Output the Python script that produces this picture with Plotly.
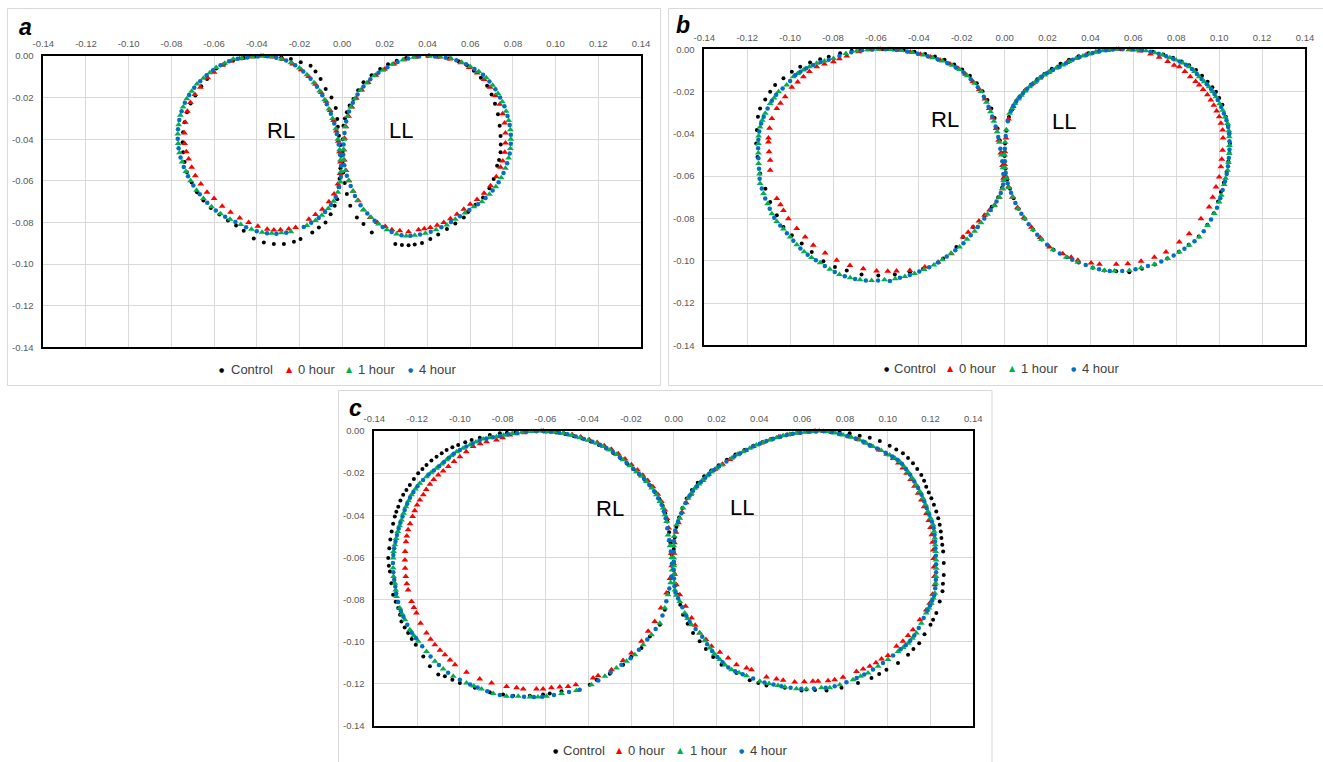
import plotly.graph_objects as go

# ---------------- data ----------------
SERIES_NAMES = ["Control", "0 hour", "1 hour", "4 hour"]
X_TICKS = [-0.14, -0.12, -0.10, -0.08, -0.06, -0.04, -0.02, 0.00, 0.02, 0.04, 0.06, 0.08, 0.10, 0.12, 0.14]
X_TICK_TEXT = ["-0.14", "-0.12", "-0.10", "-0.08", "-0.06", "-0.04", "-0.02", "0.00",
               "0.02", "0.04", "0.06", "0.08", "0.10", "0.12", "0.14"]
Y_TICKS = [0.00, -0.02, -0.04, -0.06, -0.08, -0.10, -0.12, -0.14]
Y_TICK_TEXT = ["0.00", "-0.02", "-0.04", "-0.06", "-0.08", "-0.10", "-0.12", "-0.14"]
PANEL_LABELS = ["a", "b", "c"]
LOOP_LABELS = ["RL", "LL"]
LOOP_LABEL_POS = [[(-0.0286, -0.036), (0.0276, -0.036)],
                  [(-0.028, -0.033), (0.0275, -0.034)],
                  [(-0.0299, -0.037), (0.0318, -0.0365)]]

# ---- panel a ----
A_CONTROL_RL = [(-0.036,0.000),(-0.041,-0.0003),(-0.046,-0.0010),(-0.051,-0.0020),(-0.055,-0.0037),(-0.0590,-0.0060),(-0.0633,-0.0111),(-0.066,-0.0145),(-0.0688,-0.0190),(-0.0710,-0.0228),(-0.0727,-0.0270),(-0.0738,-0.0318),(-0.0745,-0.0367),(-0.0747,-0.0415),(-0.0745,-0.0463),(-0.0738,-0.0510),(-0.0727,-0.0559),(-0.0705,-0.0608),(-0.0680,-0.0655),(-0.0650,-0.0695),(-0.0615,-0.0730),(-0.0575,-0.0762),(-0.0535,-0.0790),(-0.0497,-0.0815),(-0.0461,-0.0840),(-0.0414,-0.0877),(-0.0367,-0.0896),(-0.0320,-0.0904),(-0.0273,-0.0904),(-0.0226,-0.0893),(-0.0195,-0.0880),(-0.0140,-0.0848),(-0.0109,-0.0824),(-0.0078,-0.0800),(-0.0054,-0.0760),(-0.0035,-0.0720),(-0.0023,-0.0688),(-0.0017,-0.0630),(-0.0012,-0.0590),(-0.0008,-0.0540),(-0.0005,-0.0480),(-0.0008,-0.0428),(-0.0015,-0.0383),(-0.0020,-0.0340),(-0.0023,-0.0303),(-0.0030,-0.0250),(-0.0050,-0.0200),(-0.0077,-0.0159),(-0.0101,-0.0111),(-0.0125,-0.0075),(-0.0148,-0.0047),(-0.0194,-0.0030),(-0.0240,-0.0015),(-0.0285,-0.0006),(-0.0325,-0.0001)]
A_CONTROL_LL = [(0.0400,0.000),(0.0450,-0.0004),(0.0500,-0.0012),(0.0545,-0.0025),(0.0585,-0.0045),(0.0617,-0.0071),(0.0650,-0.0105),(0.0679,-0.0143),(0.0700,-0.0185),(0.0716,-0.0230),(0.0730,-0.0280),(0.0738,-0.0335),(0.0742,-0.0385),(0.0743,-0.0425),(0.0742,-0.0463),(0.0735,-0.0500),(0.0726,-0.0527),(0.0710,-0.0591),(0.0690,-0.0635),(0.0660,-0.0680),(0.0625,-0.0715),(0.0590,-0.0750),(0.0570,-0.0776),(0.0530,-0.0805),(0.0491,-0.0832),(0.0450,-0.0858),(0.0413,-0.0880),(0.0374,-0.0899),(0.0340,-0.0906),(0.0311,-0.0909),(0.0280,-0.0908),(0.0249,-0.0904),(0.0139,-0.0848),(0.0100,-0.0808),(0.0069,-0.0776),(0.0038,-0.0720),(0.0022,-0.0663),(0.0012,-0.0610),(0.0005,-0.0560),(0.0002,-0.0510),(0.0002,-0.0460),(0.0003,-0.0400),(0.0006,-0.0335),(0.0013,-0.0300),(0.0022,-0.0270),(0.0035,-0.0238),(0.0053,-0.0207),(0.0075,-0.0165),(0.0100,-0.0126),(0.0138,-0.0092),(0.0178,-0.0063),(0.0215,-0.0040),(0.0256,-0.0023),(0.0300,-0.0010),(0.0350,-0.0002)]
A_H0_RL = [(-0.038,0.000),(-0.043,-0.0005),(-0.048,-0.0013),(-0.052,-0.0025),(-0.056,-0.0045),(-0.060,-0.0078),(-0.063,-0.0105),(-0.0664,-0.0150),(-0.069,-0.0185),(-0.0711,-0.0223),(-0.0725,-0.0265),(-0.0735,-0.0319),(-0.0739,-0.0370),(-0.0738,-0.0420),(-0.0730,-0.0460),(-0.0719,-0.0495),(-0.0705,-0.0535),(-0.0688,-0.0575),(-0.0662,-0.0615),(-0.0633,-0.0655),(-0.0600,-0.0685),(-0.0562,-0.0722),(-0.0523,-0.0751),(-0.0480,-0.0778),(-0.0438,-0.0800),(-0.0395,-0.0818),(-0.0351,-0.0833),(-0.0320,-0.0836),(-0.0289,-0.0835),(-0.0250,-0.0832),(-0.0218,-0.0824),(-0.0156,-0.0784),(-0.0125,-0.0762),(-0.0093,-0.0736),(-0.0062,-0.0700),(-0.0038,-0.0663),(-0.0020,-0.0615),(-0.0010,-0.0565),(-0.0008,-0.0510),(-0.0012,-0.0460),(-0.0018,-0.0410),(-0.0027,-0.0360),(-0.0040,-0.0310),(-0.0056,-0.0262),(-0.0075,-0.0218),(-0.0098,-0.0176),(-0.0125,-0.0136),(-0.0157,-0.0098),(-0.0192,-0.0066),(-0.0232,-0.0038),(-0.0277,-0.0017),(-0.0325,-0.0005)]
A_H0_LL = [(0.0405,0.000),(0.0455,-0.0005),(0.0505,-0.0015),(0.0555,-0.0032),(0.0595,-0.0055),(0.0632,-0.0082),(0.0665,-0.0113),(0.0693,-0.0150),(0.0718,-0.0190),(0.0738,-0.0232),(0.0752,-0.0277),(0.0761,-0.0322),(0.0765,-0.0370),(0.0765,-0.0418),(0.0762,-0.0463),(0.0752,-0.0505),(0.0742,-0.0535),(0.0722,-0.0580),(0.0695,-0.0623),(0.0665,-0.0660),(0.0632,-0.0690),(0.0600,-0.0712),(0.0570,-0.0737),(0.0538,-0.0760),(0.0507,-0.0782),(0.0476,-0.0800),(0.0445,-0.0813),(0.0413,-0.0824),(0.0385,-0.0830),(0.0358,-0.0835),(0.0311,-0.0845),(0.0270,-0.0840),(0.0233,-0.0835),(0.0202,-0.0819),(0.0165,-0.0800),(0.0131,-0.0776),(0.0100,-0.0740),(0.0076,-0.0696),(0.0052,-0.0650),(0.0032,-0.0600),(0.0018,-0.0550),(0.0010,-0.0500),(0.0008,-0.0450),(0.0011,-0.0395),(0.0018,-0.0340),(0.0030,-0.0290),(0.0046,-0.0245),(0.0066,-0.0203),(0.0092,-0.0163),(0.0122,-0.0127),(0.0158,-0.0093),(0.0198,-0.0064),(0.0243,-0.0038),(0.0290,-0.0018),(0.0345,-0.0005)]
A_H1_RL = [(-0.037,0.000),(-0.042,-0.0004),(-0.047,-0.0010),(-0.051,-0.0015),(-0.055,-0.0035),(-0.059,-0.0055),(-0.062,-0.0080),(-0.065,-0.0107),(-0.068,-0.0135),(-0.0705,-0.0170),(-0.0728,-0.0205),(-0.0745,-0.0245),(-0.0758,-0.0285),(-0.0766,-0.0330),(-0.0770,-0.0375),(-0.0768,-0.0420),(-0.0762,-0.0465),(-0.0750,-0.0510),(-0.0732,-0.0555),(-0.0710,-0.0600),(-0.0682,-0.0645),(-0.0650,-0.0685),(-0.0612,-0.0725),(-0.0570,-0.0758),(-0.0525,-0.0785),(-0.0475,-0.0810),(-0.0425,-0.0833),(-0.0375,-0.0847),(-0.0330,-0.0852),(-0.0285,-0.0850),(-0.0240,-0.0845),(-0.0165,-0.0815),(-0.0125,-0.0790),(-0.0095,-0.0765),(-0.0065,-0.0733),(-0.0040,-0.0698),(-0.0020,-0.0655),(-0.0008,-0.0605),(-0.0005,-0.0555),(-0.0008,-0.0500),(-0.0012,-0.0450),(-0.0020,-0.0400),(-0.0030,-0.0350),(-0.0045,-0.0300),(-0.0062,-0.0255),(-0.0082,-0.0210),(-0.0105,-0.0168),(-0.0132,-0.0128),(-0.0165,-0.0090),(-0.0200,-0.0058),(-0.0240,-0.0032),(-0.0285,-0.0014),(-0.0330,-0.0004)]
A_H1_LL = [(0.041,0.000),(0.046,-0.0004),(0.051,-0.0012),(0.056,-0.0030),(0.060,-0.0050),(0.064,-0.0075),(0.0675,-0.0105),(0.0705,-0.0140),(0.073,-0.0180),(0.075,-0.0220),(0.0768,-0.0265),(0.0780,-0.0310),(0.0788,-0.0355),(0.0790,-0.0400),(0.0788,-0.0445),(0.0780,-0.0490),(0.0765,-0.0540),(0.0745,-0.0585),(0.0720,-0.0628),(0.0690,-0.0665),(0.0655,-0.0700),(0.0617,-0.0725),(0.0575,-0.0755),(0.0530,-0.0785),(0.0490,-0.0812),(0.0440,-0.0835),(0.0390,-0.0852),(0.0340,-0.0862),(0.0300,-0.0865),(0.0255,-0.0855),(0.0210,-0.0835),(0.0170,-0.0808),(0.0135,-0.0775),(0.0100,-0.0738),(0.0072,-0.0695),(0.0050,-0.0650),(0.0030,-0.0600),(0.0015,-0.0550),(0.0006,-0.0500),(0.0006,-0.0450),(0.0008,-0.0400),(0.0014,-0.0340),(0.0025,-0.0290),(0.0040,-0.0245),(0.0060,-0.0205),(0.0085,-0.0165),(0.0115,-0.0130),(0.0150,-0.0095),(0.0190,-0.0068),(0.0235,-0.0040),(0.0285,-0.0018),(0.0335,-0.0006)]
A_H4_RL = [(-0.0395,-0.0002),(-0.0445,-0.0007),(-0.049,-0.0013),(-0.053,-0.0025),(-0.057,-0.0045),(-0.0605,-0.0068),(-0.0635,-0.0093),(-0.0665,-0.0121),(-0.0693,-0.0153),(-0.0717,-0.0188),(-0.0737,-0.0225),(-0.0752,-0.0265),(-0.0763,-0.0308),(-0.0769,-0.0352),(-0.0770,-0.0398),(-0.0766,-0.0443),(-0.0757,-0.0488),(-0.0742,-0.0533),(-0.0722,-0.0578),(-0.0697,-0.0622),(-0.0667,-0.0665),(-0.0632,-0.0705),(-0.0592,-0.0742),(-0.0548,-0.0772),(-0.0500,-0.0798),(-0.0450,-0.0823),(-0.0400,-0.0842),(-0.0352,-0.0852),(-0.0308,-0.0854),(-0.0262,-0.0850),(-0.0180,-0.0822),(-0.0145,-0.0802),(-0.0110,-0.0778),(-0.0080,-0.0750),(-0.0052,-0.0716),(-0.0030,-0.0678),(-0.0014,-0.0630),(-0.0006,-0.0580),(-0.0005,-0.0528),(-0.0010,-0.0475),(-0.0016,-0.0425),(-0.0025,-0.0375),(-0.0037,-0.0325),(-0.0053,-0.0278),(-0.0072,-0.0232),(-0.0093,-0.0189),(-0.0118,-0.0148),(-0.0148,-0.0109),(-0.0182,-0.0074),(-0.0220,-0.0045),(-0.0262,-0.0022),(-0.0308,-0.0008),(-0.0350,-0.0001)]
A_H4_LL = [(0.0435,-0.0002),(0.0485,-0.0008),(0.0535,-0.0020),(0.058,-0.0040),(0.062,-0.0062),(0.066,-0.0090),(0.069,-0.0122),(0.0718,-0.0160),(0.074,-0.0200),(0.0760,-0.0242),(0.0775,-0.0288),(0.0785,-0.0332),(0.0790,-0.0378),(0.0790,-0.0422),(0.0785,-0.0468),(0.0773,-0.0515),(0.0756,-0.0562),(0.0733,-0.0607),(0.0705,-0.0647),(0.0672,-0.0683),(0.0636,-0.0713),(0.0596,-0.0740),(0.0552,-0.0770),(0.0510,-0.0798),(0.0465,-0.0823),(0.0415,-0.0845),(0.0365,-0.0858),(0.0320,-0.0864),(0.0278,-0.0862),(0.0232,-0.0846),(0.0190,-0.0822),(0.0152,-0.0792),(0.0118,-0.0757),(0.0086,-0.0717),(0.0060,-0.0673),(0.0040,-0.0625),(0.0022,-0.0575),(0.0010,-0.0525),(0.0005,-0.0475),(0.0007,-0.0425),(0.0011,-0.0370),(0.0019,-0.0315),(0.0032,-0.0267),(0.0050,-0.0225),(0.0072,-0.0185),(0.0100,-0.0147),(0.0132,-0.0112),(0.0170,-0.0081),(0.0212,-0.0054),(0.0260,-0.0029),(0.0310,-0.0012),(0.0360,-0.0003)]

# ---- panel b ----
B_CONTROL_RL = [(-0.062,0.000),(-0.067,-0.0003),(-0.0713,-0.0007),(-0.0767,-0.0019),(-0.0820,-0.0035),(-0.0860,-0.0047),(-0.0907,-0.0063),(-0.0953,-0.0082),(-0.0992,-0.0106),(-0.1031,-0.0137),(-0.1070,-0.0169),(-0.1093,-0.0201),(-0.1116,-0.0237),(-0.1140,-0.0280),(-0.1150,-0.0319),(-0.1155,-0.0382),(-0.1158,-0.0446),(-0.1152,-0.0509),(-0.1140,-0.0588),(-0.1115,-0.0660),(-0.1093,-0.0722),(-0.1062,-0.0785),(-0.1031,-0.0841),(-0.0992,-0.0880),(-0.0946,-0.0919),(-0.0899,-0.0959),(-0.0845,-0.1002),(-0.0791,-0.1030),(-0.0736,-0.1046),(-0.0667,-0.1065),(-0.0589,-0.1070),(-0.0512,-0.1065),(-0.0442,-0.1054),(-0.0380,-0.1038),(-0.0287,-0.0990),(-0.0225,-0.0935),(-0.0194,-0.0888),(-0.0147,-0.0841),(-0.0093,-0.0785),(-0.0060,-0.0745),(-0.0030,-0.0700),(-0.0012,-0.0655),(-0.0005,-0.0610),(-0.0008,-0.0550),(-0.0015,-0.0490),(-0.0023,-0.0430),(-0.0033,-0.0375),(-0.0047,-0.0325),(-0.0062,-0.0280),(-0.0080,-0.0240),(-0.0103,-0.0198),(-0.0130,-0.0160),(-0.0162,-0.0125),(-0.0198,-0.0096),(-0.0235,-0.0072),(-0.0280,-0.0050),(-0.0325,-0.0034),(-0.0370,-0.0022),(-0.0420,-0.0012),(-0.0470,-0.0005),(-0.0520,-0.0001),(-0.0570,0.0000)]
B_CONTROL_LL = [(0.0540,0.000),(0.0590,-0.0001),(0.0640,-0.0004),(0.0690,-0.0012),(0.0740,-0.0025),(0.0785,-0.0040),(0.0825,-0.0058),(0.0860,-0.0075),(0.0892,-0.0098),(0.0920,-0.0125),(0.0946,-0.0154),(0.0968,-0.0180),(0.0985,-0.0201),(0.1000,-0.0230),(0.1015,-0.0262),(0.1031,-0.0319),(0.1042,-0.0360),(0.1048,-0.0400),(0.1050,-0.0445),(0.1048,-0.0490),(0.1043,-0.0530),(0.1035,-0.0580),(0.1022,-0.0630),(0.1008,-0.0675),(0.0995,-0.0720),(0.0975,-0.0775),(0.0945,-0.0830),(0.0905,-0.0885),(0.0858,-0.0925),(0.0812,-0.0958),(0.0758,-0.0990),(0.0700,-0.1018),(0.0640,-0.1038),(0.0581,-0.1054),(0.0520,-0.1050),(0.0465,-0.1046),(0.0411,-0.1033),(0.0345,-0.1008),(0.0290,-0.0983),(0.0228,-0.0948),(0.0173,-0.0900),(0.0133,-0.0853),(0.0095,-0.0801),(0.0065,-0.0754),(0.0042,-0.0705),(0.0025,-0.0660),(0.0012,-0.0615),(0.0004,-0.0565),(0.0000,-0.0505),(0.0002,-0.0445),(0.0008,-0.0385),(0.0020,-0.0320),(0.0035,-0.0285),(0.0052,-0.0250),(0.0072,-0.0222),(0.0095,-0.0195),(0.0122,-0.0168),(0.0152,-0.0142),(0.0185,-0.0117),(0.0220,-0.0092),(0.0260,-0.0068),(0.0300,-0.0050),(0.0345,-0.0033),(0.0390,-0.0019),(0.0440,-0.0008),(0.0490,-0.0002)]
B_H0_RL = [(-0.058,0.000),(-0.063,-0.0002),(-0.068,-0.0012),(-0.0736,-0.0032),(-0.0770,-0.0045),(-0.0798,-0.0059),(-0.0840,-0.0070),(-0.0876,-0.0082),(-0.0910,-0.0105),(-0.0938,-0.0130),(-0.0965,-0.0155),(-0.0992,-0.0180),(-0.1023,-0.0225),(-0.1045,-0.0255),(-0.1062,-0.0280),(-0.1085,-0.0327),(-0.1096,-0.0374),(-0.1101,-0.0420),(-0.1101,-0.0438),(-0.1098,-0.0485),(-0.1093,-0.0525),(-0.1093,-0.0572),(-0.1062,-0.0706),(-0.1045,-0.0735),(-0.1031,-0.0762),(-0.1008,-0.0801),(-0.0969,-0.0848),(-0.0930,-0.0888),(-0.0892,-0.0927),(-0.0837,-0.0964),(-0.0783,-0.0998),(-0.0721,-0.1022),(-0.0659,-0.1038),(-0.0597,-0.1049),(-0.0545,-0.1050),(-0.0504,-0.1049),(-0.0442,-0.1046),(-0.0372,-0.1030),(-0.0310,-0.1007),(-0.0248,-0.0967),(-0.0194,-0.0888),(-0.0170,-0.0865),(-0.0147,-0.0841),(-0.0120,-0.0812),(-0.0093,-0.0785),(-0.0070,-0.0760),(-0.0047,-0.0738),(-0.0025,-0.0700),(-0.0010,-0.0660),(-0.0005,-0.0610),(-0.0010,-0.0550),(-0.0018,-0.0490),(-0.0028,-0.0430),(-0.0040,-0.0375),(-0.0055,-0.0325),(-0.0072,-0.0280),(-0.0092,-0.0235),(-0.0118,-0.0190),(-0.0148,-0.0152),(-0.0182,-0.0118),(-0.0218,-0.0090),(-0.0255,-0.0070),(-0.0300,-0.0052),(-0.0345,-0.0037),(-0.0392,-0.0024),(-0.0440,-0.0013),(-0.0490,-0.0005),(-0.0540,-0.0001)]
B_H0_LL = [(0.0530,0.000),(0.0580,-0.0002),(0.0630,-0.0008),(0.0680,-0.0022),(0.0720,-0.0038),(0.0760,-0.0058),(0.0790,-0.0075),(0.0814,-0.0082),(0.0840,-0.0105),(0.0865,-0.0130),(0.0890,-0.0152),(0.0907,-0.0169),(0.0925,-0.0190),(0.0945,-0.0215),(0.0961,-0.0240),(0.0975,-0.0265),(0.0988,-0.0292),(0.1000,-0.0319),(0.1008,-0.0350),(0.1016,-0.0382),(0.1018,-0.0420),(0.1016,-0.0477),(0.1012,-0.0520),(0.1008,-0.0556),(0.1000,-0.0604),(0.0985,-0.0651),(0.0970,-0.0700),(0.0953,-0.0746),(0.0915,-0.0801),(0.0860,-0.0872),(0.0814,-0.0912),(0.0752,-0.0959),(0.0698,-0.0983),(0.0636,-0.1002),(0.0574,-0.1014),(0.0520,-0.1017),(0.0442,-0.1017),(0.0403,-0.1011),(0.0341,-0.0998),(0.0310,-0.0983),(0.0271,-0.0967),(0.0209,-0.0935),(0.0165,-0.0890),(0.0125,-0.0842),(0.0090,-0.0795),(0.0060,-0.0748),(0.0036,-0.0700),(0.0018,-0.0650),(0.0006,-0.0600),(0.0000,-0.0545),(0.0001,-0.0485),(0.0006,-0.0420),(0.0018,-0.0330),(0.0040,-0.0270),(0.0065,-0.0230),(0.0095,-0.0195),(0.0130,-0.0163),(0.0165,-0.0135),(0.0205,-0.0108),(0.0245,-0.0085),(0.0290,-0.0062),(0.0335,-0.0042),(0.0380,-0.0026),(0.0425,-0.0013),(0.0475,-0.0004)]
B_H1_RL = [(-0.059,0.000),(-0.064,-0.0002),(-0.069,-0.0008),(-0.074,-0.0020),(-0.0798,-0.0043),(-0.084,-0.0055),(-0.0876,-0.0066),(-0.091,-0.0082),(-0.0938,-0.0098),(-0.0965,-0.0115),(-0.0985,-0.0130),(-0.1016,-0.0169),(-0.1054,-0.0201),(-0.1075,-0.0230),(-0.1093,-0.0256),(-0.1116,-0.0303),(-0.1130,-0.0335),(-0.1140,-0.0367),(-0.1147,-0.0410),(-0.1148,-0.0446),(-0.1148,-0.0490),(-0.1147,-0.0540),(-0.1143,-0.0590),(-0.1140,-0.0635),(-0.1124,-0.0682),(-0.1105,-0.0730),(-0.1085,-0.0778),(-0.1062,-0.0815),(-0.1031,-0.0850),(-0.1000,-0.0888),(-0.0969,-0.0925),(-0.0935,-0.0958),(-0.0900,-0.0985),(-0.0860,-0.1010),(-0.0815,-0.1040),(-0.0770,-0.1065),(-0.0720,-0.1080),(-0.0674,-0.1090),(-0.0620,-0.1093),(-0.0560,-0.1090),(-0.0510,-0.1085),(-0.0465,-0.1075),(-0.0420,-0.1060),(-0.0375,-0.1042),(-0.0330,-0.1020),(-0.0290,-0.0995),(-0.0250,-0.0965),(-0.0210,-0.0935),(-0.0175,-0.0898),(-0.0140,-0.0860),(-0.0110,-0.0820),(-0.0080,-0.0780),(-0.0050,-0.0740),(-0.0025,-0.0700),(-0.0010,-0.0660),(-0.0005,-0.0620),(-0.0008,-0.0560),(-0.0015,-0.0500),(-0.0025,-0.0440),(-0.0035,-0.0390),(-0.0050,-0.0340),(-0.0066,-0.0295),(-0.0085,-0.0250),(-0.0110,-0.0200),(-0.0140,-0.0160),(-0.0175,-0.0125),(-0.0210,-0.0095),(-0.0245,-0.0075),(-0.0290,-0.0055),(-0.0335,-0.0040),(-0.0380,-0.0027),(-0.0430,-0.0015),(-0.0480,-0.0006),(-0.0530,-0.0001)]
B_H1_LL = [(0.052,0.000),(0.0581,0.000),(0.0620,-0.0003),(0.0659,-0.0007),(0.0700,-0.0016),(0.0736,-0.0027),(0.0770,-0.0040),(0.0799,-0.0051),(0.0830,-0.0065),(0.0860,-0.0082),(0.0885,-0.0105),(0.0907,-0.0130),(0.0930,-0.0153),(0.0953,-0.0177),(0.0970,-0.0200),(0.0985,-0.0225),(0.1002,-0.0258),(0.1016,-0.0288),(0.1028,-0.0320),(0.1039,-0.0351),(0.1045,-0.0385),(0.1047,-0.0414),(0.1048,-0.0455),(0.1047,-0.0493),(0.1043,-0.0535),(0.1039,-0.0572),(0.1030,-0.0610),(0.1023,-0.0640),(0.1010,-0.0690),(0.1000,-0.0722),(0.0977,-0.0777),(0.0946,-0.0833),(0.0907,-0.0888),(0.0860,-0.0927),(0.0814,-0.0959),(0.0760,-0.0990),(0.0698,-0.1017),(0.0636,-0.1033),(0.0581,-0.1046),(0.0512,-0.1049),(0.0465,-0.1046),(0.0411,-0.1033),(0.0341,-0.1007),(0.0287,-0.0983),(0.0225,-0.0948),(0.0171,-0.0900),(0.0132,-0.0853),(0.0093,-0.0801),(0.0062,-0.0754),(0.0039,-0.0699),(0.0020,-0.0655),(0.0008,-0.0610),(0.0002,-0.0560),(0.0000,-0.0500),(0.0002,-0.0440),(0.0008,-0.0380),(0.0023,-0.0303),(0.0035,-0.0280),(0.0047,-0.0256),(0.0062,-0.0235),(0.0078,-0.0217),(0.0095,-0.0197),(0.0116,-0.0177),(0.0140,-0.0157),(0.0163,-0.0137),(0.0185,-0.0121),(0.0209,-0.0106),(0.0240,-0.0090),(0.0271,-0.0074),(0.0300,-0.0058),(0.0333,-0.0043),(0.0365,-0.0032),(0.0395,-0.0022),(0.0425,-0.0013),(0.0457,-0.0007),(0.0490,-0.0002)]
B_H4_RL = [(-0.0615,-0.0001),(-0.0665,-0.0005),(-0.0715,-0.0014),(-0.0770,-0.0032),(-0.0820,-0.0050),(-0.0858,-0.0060),(-0.0893,-0.0074),(-0.0925,-0.0090),(-0.0952,-0.0106),(-0.0975,-0.0122),(-0.1000,-0.0150),(-0.1035,-0.0185),(-0.1065,-0.0215),(-0.1085,-0.0243),(-0.1105,-0.0280),(-0.1123,-0.0319),(-0.1135,-0.0351),(-0.1144,-0.0389),(-0.1148,-0.0428),(-0.1149,-0.0468),(-0.1148,-0.0515),(-0.1145,-0.0565),(-0.1142,-0.0612),(-0.1132,-0.0658),(-0.1116,-0.0706),(-0.1095,-0.0754),(-0.1074,-0.0797),(-0.1046,-0.0833),(-0.1015,-0.0870),(-0.0985,-0.0906),(-0.0952,-0.0942),(-0.0918,-0.0972),(-0.0880,-0.0998),(-0.0838,-0.1025),(-0.0792,-0.1053),(-0.0745,-0.1074),(-0.0697,-0.1086),(-0.0647,-0.1093),(-0.0590,-0.1093),(-0.0535,-0.1096),(-0.0488,-0.1080),(-0.0442,-0.1068),(-0.0398,-0.1051),(-0.0352,-0.1031),(-0.0310,-0.1008),(-0.0270,-0.0980),(-0.0230,-0.0950),(-0.0192,-0.0917),(-0.0158,-0.0880),(-0.0125,-0.0840),(-0.0095,-0.0800),(-0.0065,-0.0760),(-0.0038,-0.0720),(-0.0018,-0.0680),(-0.0007,-0.0640),(-0.0006,-0.0590),(-0.0011,-0.0530),(-0.0020,-0.0470),(-0.0030,-0.0415),(-0.0042,-0.0365),(-0.0058,-0.0318),(-0.0075,-0.0272),(-0.0097,-0.0225),(-0.0125,-0.0180),(-0.0158,-0.0142),(-0.0192,-0.0110),(-0.0228,-0.0085),(-0.0268,-0.0065),(-0.0312,-0.0047),(-0.0358,-0.0033),(-0.0405,-0.0021),(-0.0455,-0.0010),(-0.0505,-0.0003),(-0.0555,0.0000)]
B_H4_LL = [(0.0550,0.000),(0.0600,-0.0001),(0.0640,-0.0005),(0.0680,-0.0011),(0.0718,-0.0021),(0.0753,-0.0033),(0.0785,-0.0045),(0.0815,-0.0058),(0.0845,-0.0073),(0.0873,-0.0093),(0.0896,-0.0117),(0.0918,-0.0141),(0.0942,-0.0165),(0.0962,-0.0188),(0.0978,-0.0212),(0.0993,-0.0240),(0.1009,-0.0273),(0.1022,-0.0304),(0.1034,-0.0335),(0.1042,-0.0368),(0.1046,-0.0400),(0.1048,-0.0435),(0.1048,-0.0474),(0.1045,-0.0514),(0.1041,-0.0553),(0.1035,-0.0590),(0.1027,-0.0625),(0.1016,-0.0665),(0.1005,-0.0705),(0.0990,-0.0750),(0.0962,-0.0805),(0.0928,-0.0860),(0.0885,-0.0908),(0.0838,-0.0943),(0.0788,-0.0975),(0.0730,-0.1004),(0.0668,-0.1025),(0.0610,-0.1040),(0.0548,-0.1048),(0.0490,-0.1048),(0.0440,-0.1040),(0.0378,-0.1020),(0.0315,-0.0995),(0.0257,-0.0966),(0.0198,-0.0925),(0.0152,-0.0877),(0.0112,-0.0827),(0.0078,-0.0778),(0.0050,-0.0727),(0.0030,-0.0678),(0.0014,-0.0633),(0.0005,-0.0585),(0.0001,-0.0530),(0.0001,-0.0470),(0.0005,-0.0410),(0.0015,-0.0340),(0.0029,-0.0292),(0.0041,-0.0268),(0.0055,-0.0245),(0.0070,-0.0226),(0.0086,-0.0207),(0.0105,-0.0187),(0.0128,-0.0167),(0.0152,-0.0147),(0.0174,-0.0129),(0.0197,-0.0113),(0.0225,-0.0098),(0.0256,-0.0082),(0.0286,-0.0066),(0.0317,-0.0050),(0.0349,-0.0037),(0.0380,-0.0027),(0.0410,-0.0017),(0.0441,-0.0010),(0.0473,-0.0004),(0.0505,-0.0001)]

# ---- panel c ----
C_CONTROL_RL = [(-0.0640,0.000),(-0.0690,-0.0002),(-0.0740,-0.0005),(-0.0780,-0.0008),(-0.0813,-0.0011),(-0.0860,-0.0019),(-0.0907,-0.0032),(-0.0945,-0.0043),(-0.0975,-0.0053),(-0.1008,-0.0066),(-0.1035,-0.0077),(-0.1062,-0.0090),(-0.1085,-0.0105),(-0.1109,-0.0122),(-0.1133,-0.0140),(-0.1156,-0.0161),(-0.1175,-0.0180),(-0.1195,-0.0200),(-0.1215,-0.0228),(-0.1234,-0.0256),(-0.1250,-0.0280),(-0.1265,-0.0303),(-0.1278,-0.0330),(-0.1288,-0.0359),(-0.1297,-0.0383),(-0.1304,-0.0406),(-0.1312,-0.0440),(-0.1319,-0.0477),(-0.1325,-0.0515),(-0.1330,-0.0556),(-0.1335,-0.0603),(-0.1332,-0.0640),(-0.1327,-0.0667),(-0.1320,-0.0722),(-0.1312,-0.0777),(-0.1300,-0.0810),(-0.1288,-0.0840),(-0.1280,-0.0872),(-0.1273,-0.0904),(-0.1258,-0.0932),(-0.1242,-0.0959),(-0.1225,-0.0987),(-0.1206,-0.1014),(-0.1171,-0.1070),(-0.1140,-0.1117),(-0.1101,-0.1156),(-0.1070,-0.1164),(-0.1035,-0.1180),(-0.1000,-0.1196),(-0.0930,-0.1219),(-0.0860,-0.1240),(-0.0798,-0.1251),(-0.0751,-0.1256),(-0.0673,-0.1256),(-0.0611,-0.1251),(-0.0580,-0.1246),(-0.0525,-0.1235),(-0.0393,-0.1204),(-0.0361,-0.1180),(-0.0299,-0.1152),(-0.0237,-0.1109),(-0.0198,-0.1070),(-0.0151,-0.1030),(-0.0112,-0.0975),(-0.0065,-0.0920),(-0.0042,-0.0848),(-0.0027,-0.0769),(-0.0015,-0.0700),(-0.0008,-0.0640),(-0.0010,-0.0585),(-0.0016,-0.0530),(-0.0022,-0.0480),(-0.0030,-0.0430),(-0.0040,-0.0390),(-0.0052,-0.0355),(-0.0068,-0.0322),(-0.0088,-0.0290),(-0.0110,-0.0260),(-0.0135,-0.0232),(-0.0160,-0.0208),(-0.0188,-0.0182),(-0.0218,-0.0155),(-0.0250,-0.0128),(-0.0283,-0.0104),(-0.0316,-0.0083),(-0.0350,-0.0066),(-0.0388,-0.0050),(-0.0428,-0.0036),(-0.0468,-0.0024),(-0.0508,-0.0014),(-0.0550,-0.0007),(-0.0595,-0.0002)]
C_CONTROL_LL = [(0.0700,0.000),(0.0740,-0.0002),(0.0775,-0.0004),(0.0822,-0.0011),(0.0869,-0.0022),(0.0916,-0.0032),(0.0963,-0.0047),(0.1009,-0.0070),(0.1040,-0.0088),(0.1071,-0.0106),(0.1095,-0.0128),(0.1118,-0.0153),(0.1138,-0.0180),(0.1157,-0.0209),(0.1170,-0.0236),(0.1180,-0.0264),(0.1192,-0.0292),(0.1204,-0.0319),(0.1216,-0.0350),(0.1227,-0.0382),(0.1236,-0.0414),(0.1243,-0.0445),(0.1248,-0.0477),(0.1251,-0.0508),(0.1255,-0.0540),(0.1259,-0.0572),(0.1262,-0.0627),(0.1262,-0.0683),(0.1258,-0.0725),(0.1256,-0.0761),(0.1243,-0.0809),(0.1227,-0.0864),(0.1212,-0.0896),(0.1200,-0.0920),(0.1172,-0.0965),(0.1147,-0.1007),(0.1120,-0.1035),(0.1095,-0.1062),(0.1048,-0.1101),(0.0994,-0.1133),(0.0960,-0.1153),(0.0924,-0.1172),(0.0861,-0.1196),(0.0784,-0.1219),(0.0714,-0.1231),(0.0660,-0.1229),(0.0620,-0.1227),(0.0597,-0.1231),(0.0519,-0.1219),(0.0433,-0.1208),(0.0395,-0.1196),(0.0355,-0.1183),(0.0293,-0.1148),(0.0223,-0.1109),(0.0184,-0.1072),(0.0150,-0.1035),(0.0121,-0.0998),(0.0090,-0.0959),(0.0065,-0.0915),(0.0043,-0.0872),(0.0030,-0.0825),(0.0020,-0.0777),(0.0010,-0.0730),(0.0004,-0.0680),(0.0000,-0.0620),(0.0000,-0.0560),(0.0004,-0.0505),(0.0012,-0.0455),(0.0025,-0.0410),(0.0040,-0.0365),(0.0060,-0.0320),(0.0085,-0.0280),(0.0112,-0.0245),(0.0142,-0.0215),(0.0175,-0.0188),(0.0210,-0.0162),(0.0248,-0.0136),(0.0288,-0.0112),(0.0330,-0.0090),(0.0372,-0.0070),(0.0415,-0.0053),(0.0458,-0.0038),(0.0500,-0.0026),(0.0545,-0.0015),(0.0590,-0.0008),(0.0640,-0.0002)]
C_H0_RL = [(-0.0610,0.000),(-0.0655,-0.0002),(-0.0700,-0.0008),(-0.0735,-0.0013),(-0.0766,-0.0019),(-0.0800,-0.0032),(-0.0829,-0.0043),(-0.0875,-0.0051),(-0.0905,-0.0060),(-0.0938,-0.0074),(-0.0970,-0.0098),(-0.1000,-0.0122),(-0.1027,-0.0145),(-0.1054,-0.0169),(-0.1078,-0.0190),(-0.1101,-0.0209),(-0.1122,-0.0230),(-0.1140,-0.0253),(-0.1157,-0.0278),(-0.1171,-0.0303),(-0.1187,-0.0328),(-0.1200,-0.0351),(-0.1211,-0.0378),(-0.1221,-0.0406),(-0.1233,-0.0440),(-0.1242,-0.0469),(-0.1248,-0.0498),(-0.1252,-0.0525),(-0.1256,-0.0572),(-0.1257,-0.0612),(-0.1256,-0.0651),(-0.1253,-0.0690),(-0.1248,-0.0725),(-0.1242,-0.0754),(-0.1226,-0.0809),(-0.1215,-0.0838),(-0.1203,-0.0864),(-0.1184,-0.0912),(-0.1156,-0.0959),(-0.1137,-0.0988),(-0.1117,-0.1014),(-0.1093,-0.1040),(-0.1070,-0.1062),(-0.1046,-0.1087),(-0.1023,-0.1109),(-0.0969,-0.1145),(-0.0907,-0.1177),(-0.0852,-0.1196),(-0.0782,-0.1212),(-0.0735,-0.1219),(-0.0704,-0.1224),(-0.0642,-0.1224),(-0.0611,-0.1224),(-0.0572,-0.1219),(-0.0533,-0.1215),(-0.0494,-0.1212),(-0.0458,-0.1204),(-0.0377,-0.1172),(-0.0354,-0.1161),(-0.0291,-0.1133),(-0.0237,-0.1089),(-0.0198,-0.1054),(-0.0151,-0.0998),(-0.0120,-0.0950),(-0.0089,-0.0904),(-0.0060,-0.0840),(-0.0034,-0.0769),(-0.0018,-0.0700),(-0.0010,-0.0640),(-0.0012,-0.0580),(-0.0018,-0.0520),(-0.0024,-0.0460),(-0.0032,-0.0415),(-0.0042,-0.0375),(-0.0058,-0.0335),(-0.0075,-0.0300),(-0.0098,-0.0265),(-0.0122,-0.0235),(-0.0145,-0.0210),(-0.0170,-0.0185),(-0.0198,-0.0160),(-0.0228,-0.0133),(-0.0260,-0.0108),(-0.0292,-0.0087),(-0.0325,-0.0070),(-0.0358,-0.0055),(-0.0395,-0.0041),(-0.0435,-0.0029),(-0.0475,-0.0018),(-0.0515,-0.0009),(-0.0560,-0.0003)]
C_H0_LL = [(0.0660,0.000),(0.0700,-0.0002),(0.0740,-0.0007),(0.0780,-0.0016),(0.0820,-0.0027),(0.0860,-0.0040),(0.0895,-0.0056),(0.0925,-0.0072),(0.0960,-0.0090),(0.0995,-0.0110),(0.1025,-0.0130),(0.1050,-0.0152),(0.1070,-0.0175),(0.1088,-0.0200),(0.1107,-0.0230),(0.1125,-0.0262),(0.1142,-0.0295),(0.1157,-0.0327),(0.1170,-0.0360),(0.1181,-0.0392),(0.1192,-0.0425),(0.1200,-0.0458),(0.1206,-0.0492),(0.1210,-0.0528),(0.1213,-0.0565),(0.1215,-0.0605),(0.1216,-0.0645),(0.1218,-0.0690),(0.1220,-0.0730),(0.1210,-0.0775),(0.1196,-0.0817),(0.1180,-0.0849),(0.1150,-0.0896),(0.1118,-0.0943),(0.1095,-0.0970),(0.1071,-0.0998),(0.1041,-0.1022),(0.1001,-0.1066),(0.0971,-0.1082),(0.0945,-0.1100),(0.0916,-0.1117),(0.0885,-0.1130),(0.0854,-0.1141),(0.0791,-0.1169),(0.0752,-0.1180),(0.0721,-0.1185),(0.0674,-0.1188),(0.0650,-0.1188),(0.0610,-0.1190),(0.0565,-0.1191),(0.0511,-0.1183),(0.0480,-0.1177),(0.0433,-0.1167),(0.0363,-0.1133),(0.0340,-0.1125),(0.0293,-0.1109),(0.0254,-0.1077),(0.0215,-0.1050),(0.0176,-0.1022),(0.0150,-0.0990),(0.0121,-0.0959),(0.0100,-0.0922),(0.0083,-0.0888),(0.0055,-0.0832),(0.0028,-0.0777),(0.0012,-0.0730),(0.0004,-0.0680),(0.0000,-0.0630),(0.0001,-0.0580),(0.0003,-0.0530),(0.0010,-0.0480),(0.0022,-0.0435),(0.0038,-0.0385),(0.0058,-0.0340),(0.0080,-0.0300),(0.0105,-0.0265),(0.0133,-0.0235),(0.0162,-0.0207),(0.0193,-0.0182),(0.0228,-0.0158),(0.0262,-0.0135),(0.0298,-0.0112),(0.0335,-0.0092),(0.0372,-0.0073),(0.0410,-0.0057),(0.0450,-0.0042),(0.0490,-0.0029),(0.0530,-0.0018),(0.0575,-0.0009),(0.0620,-0.0003)]
C_H1_RL = [(-0.0620,0.000),(-0.0665,-0.0002),(-0.0710,-0.0006),(-0.0755,-0.0012),(-0.0795,-0.0020),(-0.0829,-0.0027),(-0.0860,-0.0032),(-0.0891,-0.0038),(-0.0925,-0.0052),(-0.0953,-0.0066),(-0.0985,-0.0082),(-0.1015,-0.0098),(-0.1040,-0.0118),(-0.1062,-0.0137),(-0.1085,-0.0157),(-0.1109,-0.0177),(-0.1135,-0.0198),(-0.1156,-0.0217),(-0.1187,-0.0248),(-0.1208,-0.0275),(-0.1226,-0.0303),(-0.1240,-0.0331),(-0.1252,-0.0359),(-0.1263,-0.0390),(-0.1273,-0.0422),(-0.1282,-0.0450),(-0.1290,-0.0477),(-0.1298,-0.0510),(-0.1304,-0.0540),(-0.1310,-0.0572),(-0.1312,-0.0603),(-0.1312,-0.0650),(-0.1310,-0.0690),(-0.1304,-0.0722),(-0.1300,-0.0755),(-0.1296,-0.0785),(-0.1281,-0.0840),(-0.1270,-0.0868),(-0.1257,-0.0896),(-0.1234,-0.0943),(-0.1215,-0.0970),(-0.1195,-0.0998),(-0.1156,-0.1046),(-0.1117,-0.1093),(-0.1078,-0.1129),(-0.1031,-0.1164),(-0.0969,-0.1196),(-0.0935,-0.1210),(-0.0899,-0.1224),(-0.0844,-0.1246),(-0.0782,-0.1259),(-0.0727,-0.1259),(-0.0673,-0.1262),(-0.0635,-0.1262),(-0.0595,-0.1259),(-0.0525,-0.1246),(-0.0455,-0.1231),(-0.0385,-0.1204),(-0.0322,-0.1164),(-0.0268,-0.1125),(-0.0221,-0.1093),(-0.0182,-0.1062),(-0.0143,-0.1014),(-0.0104,-0.0967),(-0.0065,-0.0912),(-0.0042,-0.0840),(-0.0027,-0.0777),(-0.0015,-0.0720),(-0.0008,-0.0660),(-0.0010,-0.0600),(-0.0018,-0.0545),(-0.0027,-0.0493),(-0.0034,-0.0430),(-0.0042,-0.0398),(-0.0050,-0.0366),(-0.0065,-0.0335),(-0.0081,-0.0303),(-0.0103,-0.0270),(-0.0128,-0.0240),(-0.0150,-0.0215),(-0.0174,-0.0193),(-0.0205,-0.0165),(-0.0237,-0.0137),(-0.0268,-0.0112),(-0.0299,-0.0090),(-0.0330,-0.0073),(-0.0361,-0.0058),(-0.0400,-0.0044),(-0.0439,-0.0032),(-0.0478,-0.0020),(-0.0517,-0.0011),(-0.0556,-0.0006),(-0.0595,-0.0003)]
C_H1_LL = [(0.0680,0.000),(0.0720,-0.0003),(0.0755,-0.0009),(0.0791,-0.0019),(0.0830,-0.0030),(0.0869,-0.0043),(0.0900,-0.0058),(0.0931,-0.0074),(0.0970,-0.0093),(0.1009,-0.0114),(0.1033,-0.0128),(0.1056,-0.0145),(0.1076,-0.0168),(0.1095,-0.0193),(0.1115,-0.0224),(0.1134,-0.0256),(0.1150,-0.0287),(0.1165,-0.0319),(0.1177,-0.0350),(0.1188,-0.0382),(0.1200,-0.0413),(0.1212,-0.0445),(0.1217,-0.0476),(0.1220,-0.0508),(0.1222,-0.0540),(0.1224,-0.0572),(0.1226,-0.0612),(0.1227,-0.0651),(0.1226,-0.0690),(0.1224,-0.0722),(0.1220,-0.0770),(0.1213,-0.0793),(0.1204,-0.0817),(0.1192,-0.0840),(0.1180,-0.0864),(0.1157,-0.0912),(0.1134,-0.0959),(0.1115,-0.0983),(0.1095,-0.1007),(0.1072,-0.1027),(0.1048,-0.1046),(0.1001,-0.1085),(0.0955,-0.1117),(0.0908,-0.1148),(0.0873,-0.1164),(0.0838,-0.1180),(0.0776,-0.1204),(0.0729,-0.1219),(0.0690,-0.1219),(0.0620,-0.1224),(0.0573,-0.1223),(0.0519,-0.1215),(0.0487,-0.1208),(0.0445,-0.1198),(0.0402,-0.1188),(0.0340,-0.1161),(0.0305,-0.1147),(0.0270,-0.1133),(0.0240,-0.1110),(0.0215,-0.1085),(0.0190,-0.1058),(0.0168,-0.1030),(0.0145,-0.0995),(0.0121,-0.0959),(0.0083,-0.0920),(0.0065,-0.0890),(0.0051,-0.0864),(0.0028,-0.0809),(0.0012,-0.0780),(0.0005,-0.0754),(0.0002,-0.0720),(0.0000,-0.0680),(0.0000,-0.0640),(0.0000,-0.0603),(0.0000,-0.0545),(0.0002,-0.0500),(0.0013,-0.0445),(0.0028,-0.0414),(0.0043,-0.0366),(0.0067,-0.0319),(0.0082,-0.0295),(0.0098,-0.0272),(0.0118,-0.0252),(0.0137,-0.0232),(0.0157,-0.0212),(0.0176,-0.0193),(0.0200,-0.0177),(0.0223,-0.0161),(0.0270,-0.0129),(0.0297,-0.0113),(0.0324,-0.0098),(0.0355,-0.0082),(0.0386,-0.0066),(0.0418,-0.0054),(0.0449,-0.0043),(0.0480,-0.0032),(0.0511,-0.0022),(0.0542,-0.0016),(0.0573,-0.0011),(0.0612,-0.0006),(0.0651,-0.0003)]
C_H4_RL = [(-0.0642,-0.0001),(-0.0688,-0.0004),(-0.0732,-0.0009),(-0.0775,-0.0016),(-0.0812,-0.0024),(-0.0845,-0.0030),(-0.0876,-0.0035),(-0.0908,-0.0045),(-0.0940,-0.0059),(-0.0970,-0.0074),(-0.1000,-0.0090),(-0.1028,-0.0108),(-0.1051,-0.0127),(-0.1074,-0.0147),(-0.1097,-0.0167),(-0.1122,-0.0187),(-0.1146,-0.0207),(-0.1172,-0.0232),(-0.1198,-0.0262),(-0.1217,-0.0289),(-0.1233,-0.0317),(-0.1246,-0.0345),(-0.1258,-0.0375),(-0.1268,-0.0406),(-0.1278,-0.0436),(-0.1286,-0.0463),(-0.1294,-0.0494),(-0.1301,-0.0525),(-0.1307,-0.0556),(-0.1311,-0.0588),(-0.1313,-0.0627),(-0.1311,-0.0670),(-0.1307,-0.0706),(-0.1302,-0.0738),(-0.1298,-0.0770),(-0.1289,-0.0812),(-0.1276,-0.0854),(-0.1264,-0.0882),(-0.1246,-0.0920),(-0.1225,-0.0957),(-0.1205,-0.0984),(-0.1176,-0.1022),(-0.1137,-0.1070),(-0.1098,-0.1111),(-0.1055,-0.1147),(-0.1000,-0.1180),(-0.0952,-0.1203),(-0.0917,-0.1217),(-0.0872,-0.1235),(-0.0813,-0.1253),(-0.0755,-0.1259),(-0.0700,-0.1261),(-0.0654,-0.1262),(-0.0615,-0.1261),(-0.0560,-0.1253),(-0.0490,-0.1239),(-0.0440,-0.1228),(-0.0353,-0.1184),(-0.0295,-0.1145),(-0.0245,-0.1109),(-0.0202,-0.1078),(-0.0163,-0.1038),(-0.0124,-0.0990),(-0.0085,-0.0940),(-0.0053,-0.0876),(-0.0035,-0.0808),(-0.0021,-0.0748),(-0.0011,-0.0690),(-0.0009,-0.0630),(-0.0014,-0.0572),(-0.0022,-0.0519),(-0.0030,-0.0462),(-0.0038,-0.0414),(-0.0046,-0.0382),(-0.0057,-0.0350),(-0.0073,-0.0319),(-0.0092,-0.0286),(-0.0115,-0.0255),(-0.0139,-0.0227),(-0.0162,-0.0204),(-0.0190,-0.0179),(-0.0221,-0.0151),(-0.0252,-0.0124),(-0.0284,-0.0101),(-0.0315,-0.0081),(-0.0345,-0.0065),(-0.0380,-0.0051),(-0.0420,-0.0038),(-0.0458,-0.0026),(-0.0497,-0.0015),(-0.0536,-0.0008),(-0.0576,-0.0004),(-0.0608,-0.0001)]
C_H4_LL = [(0.0700,-0.0001),(0.0738,-0.0006),(0.0773,-0.0014),(0.0810,-0.0024),(0.0850,-0.0036),(0.0885,-0.0050),(0.0915,-0.0066),(0.0950,-0.0083),(0.0990,-0.0103),(0.1021,-0.0121),(0.1045,-0.0136),(0.1066,-0.0156),(0.1085,-0.0180),(0.1105,-0.0208),(0.1124,-0.0240),(0.1142,-0.0271),(0.1158,-0.0303),(0.1171,-0.0334),(0.1182,-0.0366),(0.1194,-0.0397),(0.1206,-0.0429),(0.1215,-0.0460),(0.1219,-0.0492),(0.1221,-0.0524),(0.1223,-0.0556),(0.1225,-0.0592),(0.1226,-0.0632),(0.1226,-0.0670),(0.1225,-0.0706),(0.1222,-0.0746),(0.1217,-0.0781),(0.1208,-0.0805),(0.1198,-0.0828),(0.1186,-0.0852),(0.1168,-0.0888),(0.1145,-0.0935),(0.1124,-0.0971),(0.1105,-0.0995),(0.1084,-0.1017),(0.1060,-0.1036),(0.1025,-0.1065),(0.0978,-0.1101),(0.0931,-0.1132),(0.0890,-0.1156),(0.0855,-0.1172),(0.0807,-0.1192),(0.0752,-0.1211),(0.0710,-0.1219),(0.0655,-0.1222),(0.0596,-0.1223),(0.0546,-0.1219),(0.0503,-0.1211),(0.0466,-0.1203),(0.0424,-0.1193),(0.0371,-0.1175),(0.0322,-0.1154),(0.0287,-0.1140),(0.0255,-0.1122),(0.0228,-0.1097),(0.0203,-0.1072),(0.0179,-0.1044),(0.0156,-0.1012),(0.0133,-0.0977),(0.0102,-0.0940),(0.0074,-0.0905),(0.0058,-0.0877),(0.0040,-0.0836),(0.0020,-0.0795),(0.0008,-0.0767),(0.0003,-0.0737),(0.0001,-0.0700),(0.0000,-0.0660),(0.0000,-0.0622),(0.0000,-0.0574),(0.0001,-0.0522),(0.0007,-0.0472),(0.0020,-0.0430),(0.0035,-0.0390),(0.0055,-0.0342),(0.0074,-0.0307),(0.0090,-0.0283),(0.0108,-0.0262),(0.0127,-0.0242),(0.0147,-0.0222),(0.0166,-0.0203),(0.0188,-0.0185),(0.0211,-0.0169),(0.0246,-0.0145),(0.0283,-0.0121),(0.0310,-0.0105),(0.0340,-0.0090),(0.0370,-0.0074),(0.0402,-0.0060),(0.0433,-0.0048),(0.0465,-0.0037),(0.0495,-0.0027),(0.0527,-0.0019),(0.0557,-0.0013),(0.0592,-0.0008),(0.0631,-0.0004),(0.0665,-0.0002)]

PANEL_DATA = [
    [A_CONTROL_RL + A_CONTROL_LL, A_H0_RL + A_H0_LL, A_H1_RL + A_H1_LL, A_H4_RL + A_H4_LL],
    [B_CONTROL_RL + B_CONTROL_LL, B_H0_RL + B_H0_LL, B_H1_RL + B_H1_LL, B_H4_RL + B_H4_LL],
    [C_CONTROL_RL + C_CONTROL_LL, C_H0_RL + C_H0_LL, C_H1_RL + C_H1_LL, C_H4_RL + C_H4_LL],
]

# ---------------- styling / layout ----------------
COLORS = ["#000000", "#FF0000", "#00B050", "#0070C0"]
SYMBOLS = ["circle", "triangle-up", "triangle-up", "circle"]
SIZES = [4, 6, 6, 4.5]
LEGEND_GLYPHS = ["\u25CF", "\u25B2", "\u25B2", "\u25CF"]
LEGEND_GLYPH_SIZES = [6, 8, 8, 6]

W, H = 1323, 762
FONT = "Liberation Sans, Arial, sans-serif"


def fx(p):
    return p / W


def fy(p):
    return 1 - p / H


# plot boxes (left, top, right, bottom) in pixels
PLOT_BOXES = [(43.3, 56.0, 641.0, 347.3), (704.3, 49.3, 1305.0, 345.3), (374.3, 431.0, 973.3, 726.0)]
CHART_BOXES = [(7.5, 8.5, 660.5, 385.5), (668.5, 8.5, 1330.0, 385.5), (338.5, 390.5, 992.0, 770.0)]
LABEL_POS = [(17.0, 42.0), (674.0, 40.0), (347.0, 423.0)]
LEGEND_ROWS = [
    (369.0, [221.7, 289.3, 349.0, 410.0], [229.0, 295.7, 356.3, 416.7]),
    (368.3, [886.0, 950.7, 1012.3, 1073.3], [891.7, 957.3, 1019.0, 1079.7]),
    (750.0, [555.0, 619.3, 680.7, 741.7], [560.7, 625.7, 688.3, 748.3]),
]

fig = go.Figure()
annotations = []
shapes = []
layout_axes = {}

for i, series_list in enumerate(PANEL_DATA):
    n = "" if i == 0 else str(i + 1)
    xa, ya = "x" + n, "y" + n
    for j, pts in enumerate(series_list):
        fig.add_trace(go.Scatter(
            x=[p[0] for p in pts], y=[p[1] for p in pts],
            mode="markers", name=SERIES_NAMES[j], showlegend=False,
            xaxis=xa, yaxis=ya, cliponaxis=False, hoverinfo="skip",
            marker=dict(color=COLORS[j], symbol=SYMBOLS[j], size=SIZES[j], line=dict(width=0)),
        ))
    l, t, r, b = PLOT_BOXES[i]
    common = dict(showgrid=True, gridcolor="#D9D9D9", gridwidth=1, zeroline=False,
                  showline=True, linecolor="#000000", linewidth=1.5, mirror=True,
                  ticks="", tickfont=dict(family=FONT, size=9.5, color="#595959"),
                  fixedrange=True, automargin=False)
    layout_axes["xaxis" + n] = dict(domain=[fx(l), fx(r)], range=[-0.1400001, 0.1400001],
                                    anchor=ya, side="top", tickvals=X_TICKS, ticktext=X_TICK_TEXT,
                                    ticklabelstandoff=3, **common)
    layout_axes["yaxis" + n] = dict(domain=[fy(b), fy(t)], range=[-0.1400001, 0.0000001],
                                    anchor=xa, tickvals=Y_TICKS, ticktext=Y_TICK_TEXT,
                                    ticklabelstandoff=6, **common)
    # loop labels
    for k, lab in enumerate(LOOP_LABELS):
        annotations.append(dict(x=LOOP_LABEL_POS[i][k][0], y=LOOP_LABEL_POS[i][k][1], xref=xa, yref=ya,
                                text=lab, showarrow=False, font=dict(family=FONT, size=22, color="#000000"),
                                xanchor="center", yanchor="middle"))
    # panel letter
    annotations.append(dict(x=fx(LABEL_POS[i][0]), y=fy(LABEL_POS[i][1]), xref="paper", yref="paper",
                            text="<b><i>" + PANEL_LABELS[i] + "</i></b>", showarrow=False,
                            font=dict(family=FONT, size=23, color="#000000"),
                            xanchor="left", yanchor="bottom"))
    # legend
    ly, gx, tx = LEGEND_ROWS[i]
    for j in range(4):
        annotations.append(dict(x=fx(gx[j]), y=fy(ly), xref="paper", yref="paper",
                                text=LEGEND_GLYPHS[j], showarrow=False,
                                font=dict(family="DejaVu Sans", size=LEGEND_GLYPH_SIZES[j], color=COLORS[j]),
                                xanchor="center", yanchor="middle"))
        annotations.append(dict(x=fx(tx[j]), y=fy(ly), xref="paper", yref="paper",
                                text=SERIES_NAMES[j], showarrow=False,
                                font=dict(family=FONT, size=13, color="#404040"),
                                xanchor="left", yanchor="middle"))
    # chart frame
    cl, ct, cr, cb = CHART_BOXES[i]
    shapes.append(dict(type="rect", xref="paper", yref="paper", x0=fx(cl), x1=fx(cr), y0=fy(cb), y1=fy(ct),
                       line=dict(color="#D9D9D9", width=1), fillcolor="rgba(0,0,0,0)", layer="below"))

fig.update_layout(
    width=W, height=H, margin=dict(l=0, r=0, t=0, b=0, pad=0, autoexpand=False),
    paper_bgcolor="#FFFFFF", plot_bgcolor="#FFFFFF",
    showlegend=False, annotations=annotations, shapes=shapes,
    **layout_axes,
)

fig.write_html("out.html", config={"displayModeBar": False},
               post_script="document.body.style.margin='0';document.body.style.overflow='hidden';")
